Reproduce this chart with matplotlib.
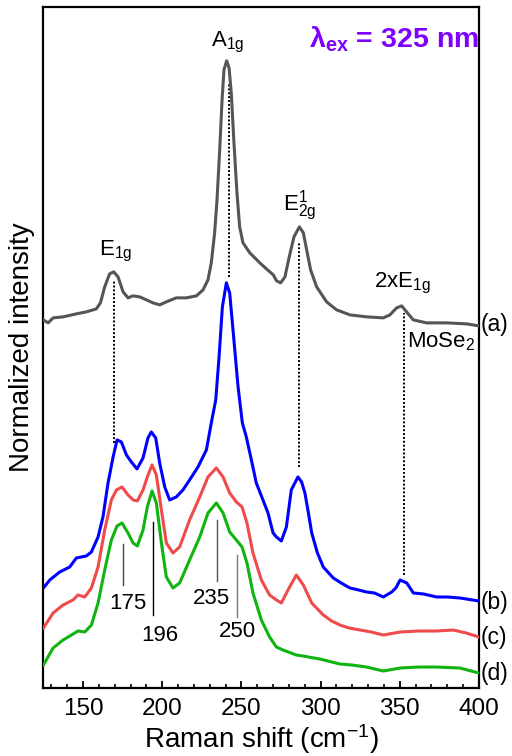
import numpy as np
import matplotlib
matplotlib.use("Agg")
import matplotlib.pyplot as plt

plt.rcParams['font.family'] = ['Liberation Sans', 'DejaVu Sans']
plt.rcParams['mathtext.fontset'] = 'custom'
plt.rcParams['mathtext.rm'] = 'Liberation Sans'
plt.rcParams['mathtext.it'] = 'Liberation Sans:italic'
plt.rcParams['mathtext.bf'] = 'Liberation Sans:bold'
plt.rcParams['mathtext.default'] = 'regular'

# -------------------------------------------------------------------
# spectra (offset, normalized units)
# -------------------------------------------------------------------
x_a = [125, 128, 131.1, 137.4, 145.8, 152.1, 158.4, 161, 163.7, 166.8, 169.4, 172.1, 175.3, 178.4,
       181.6, 185.8, 190, 194.2, 198.4, 202.6, 208.9, 215.2, 221.6, 225.8, 228.9, 231, 233.1,
       234.6, 236.3, 237.8, 239, 240.7, 242.2, 243.6, 245.3, 247.2, 248.9, 251, 255.3, 261.6,
       266.5, 270.1, 272.2, 274.8, 277.5, 280.2, 283.2, 286.6, 289.1, 291.2, 293.7, 297.5, 303.8,
       310.1, 318.5, 329.1, 339.6, 343.8, 348, 351.2, 354.3, 358.5, 366.9, 379.6, 392.2, 400]
y_a = [36.8, 36.5, 37.0, 37.1, 37.4, 37.6, 37.9, 38.5, 40.1, 41.4, 41.6, 41.1, 39.6, 39.0,
       39.2, 39.1, 38.8, 38.5, 38.3, 38.6, 39.0, 39.0, 39.2, 39.8, 40.8, 42.5, 45.5,
       48.8, 53.8, 58.8, 61.8, 62.7, 62.0, 59.5, 54.5, 49.5, 46.1, 44.5, 43.5, 42.5,
       41.8, 41.3, 40.7, 40.5, 41.1, 43.1, 45.1, 46.1, 45.5, 43.8, 41.8, 40.1, 38.6,
       37.8, 37.3, 37.1, 37.0, 37.3, 38.0, 38.2, 37.6, 36.8, 36.5, 36.5, 36.4, 36.2]

x_b = [125, 129, 135.3, 141.6, 145.8, 152.1, 155.3, 159.5, 162.6, 165.8, 169, 171.5, 174.2, 177.4,
       180.5, 184.1, 187.9, 191, 193.1, 195.9, 198.4, 201.6, 204.7, 208.9, 213.1, 217.3, 222.6,
       227.9, 231, 233.8, 235.9, 238, 240.5, 242.6, 244.7, 247.9, 250.6, 253.1, 256.3, 259.4,
       263.6, 266.8, 270, 272.1, 275.2, 278.4, 281.5, 285.7, 288, 290.1, 292.2, 294.4, 298,
       301.7, 308, 313, 318.5, 324, 329, 334, 339.6, 344.9, 347.5, 350.2, 354.4, 358.6, 365,
       373.3, 380, 388, 400]
y_b = [10.0, 10.8, 11.6, 12.1, 13.0, 13.2, 13.6, 15.1, 17.1, 20.5, 23.1, 24.8, 24.6, 23.3,
       22.6, 21.9, 23.0, 25.0, 25.6, 25.0, 22.5, 20.1, 18.8, 19.1, 19.8, 20.8, 22.1,
       23.8, 26.5, 28.8, 33.1, 38.1, 40.5, 39.5, 35.8, 30.1, 26.5, 25.1, 22.8, 20.5,
       18.8, 17.5, 15.5, 15.1, 14.7, 16.1, 19.8, 21.1, 20.6, 19.5, 17.6, 15.5, 13.5,
       12.1, 11.0, 10.5, 10.0, 9.8, 9.6, 9.5, 9.1, 9.6, 10.0, 10.8, 10.5, 9.5, 9.4,
       9.1, 9.1, 9.0, 8.7]

x_c = [125, 131.1, 137.4, 143.7, 146.8, 151.1, 155.3, 159.5, 163.7, 167.9, 171.1, 174.6, 178.4,
       181.6, 184.3, 187.9, 190.6, 193.6, 196.3, 199.5, 202.6, 206.8, 211, 217.3, 223.7, 228.9,
       234.2, 238.4, 242.6, 246.8, 250.4, 253.5, 257.3, 262.6, 267.8, 272.1, 275.2, 279.4, 284.7,
       289.1, 294.4, 301.7, 307, 312.2, 318, 324.9, 332, 339.6, 350.2, 362, 373.3, 383.7, 392, 400]
y_c = [6.0, 7.5, 8.3, 8.8, 9.3, 9.1, 10.0, 12.1, 15.8, 18.8, 19.8, 20.1, 19.3,
       18.8, 18.7, 19.8, 21.1, 22.3, 21.3, 17.8, 14.5, 13.5, 14.1, 16.8, 19.1, 21.1,
       22.0, 21.1, 19.5, 18.6, 18.1, 16.5, 13.5, 10.8, 9.3, 8.8, 8.5, 9.8, 11.3,
       10.3, 8.5, 7.3, 6.7, 6.3, 6.0, 5.8, 5.6, 5.3, 5.6, 5.7, 5.7, 5.8, 5.5, 5.1]

x_d = [125, 131.1, 137.4, 143.7, 146.8, 151.1, 155.3, 159.5, 163.7, 167.9, 171.5, 174.6, 178.4,
       181.6, 184.3, 187.9, 190.6, 193.6, 196.3, 199.5, 202.6, 206.8, 211, 217.3, 223.7, 228.9,
       234.2, 238.4, 242.6, 246.8, 250.4, 253.5, 257.3, 262.6, 267.8, 272.1, 276.3, 284.7, 288.9,
       299.6, 312.2, 320, 329, 339.6, 350.2, 362, 373.3, 388, 400]
y_d = [2.3, 4.0, 4.8, 5.4, 5.7, 5.6, 6.3, 8.5, 11.8, 14.8, 16.2, 16.5, 15.5,
       14.5, 14.2, 15.8, 18.1, 19.7, 18.5, 14.5, 11.1, 10.0, 10.5, 12.8, 15.1, 17.5,
       18.5, 17.5, 15.6, 14.8, 14.1, 12.5, 9.5, 6.8, 5.1, 4.1, 3.8, 3.3, 3.2,
       2.9, 2.4, 2.3, 2.1, 1.7, 2.0, 2.1, 2.1, 2.0, 1.5]

# dotted guides: (x, y_top, y_bottom)
guide_x = [169.6, 242, 286.5, 352.5]
guide_top = [40.8, 60.5, 44.5, 37.5]
guide_bot = [24.5, 41.1, 22.1, 11.3]

# solid position markers with their labels
mark_x = [175.5, 194, 234.4, 247]
mark_top = [14.4, 16.6, 16.8, 13.3]
mark_bot = [10.3, 7.3, 10.7, 7.1]
mark_col = ['#444444', 'black', '#555555', '#777777']
mark_lbl = ['175', '196', '235', '250']
mark_lbl_x = [178.4, 198.6, 231, 247.2]
mark_lbl_y = [8.45, 5.3, 8.97, 5.7]

# -------------------------------------------------------------------
# figure
# -------------------------------------------------------------------
fig = plt.figure(figsize=(5.12, 7.56), dpi=100)
ax = fig.add_axes([0.0848, 0.0899, 0.9355 - 0.0848, 0.9911 - 0.0899])

lw = 2.2
for xs, ys, col in [(x_a, y_a, '#555555'), (x_b, y_b, '#0000ff'),
                    (x_c, y_c, '#f04a4a'), (x_d, y_d, '#10b410')]:
    ax.plot(xs, ys, color=col, lw=lw, zorder=3, solid_joinstyle='round')

for gx, gt, gb in zip(guide_x, guide_top, guide_bot):
    ax.plot([gx, gx], [gb, gt], color='black', lw=1.4, linestyle=(0, (1, 1)), zorder=2)

for mx, mt, mb, mc in zip(mark_x, mark_top, mark_bot, mark_col):
    ax.plot([mx, mx], [mb, mt], color=mc, lw=1.0, zorder=2)
for lx, ly, lt in zip(mark_lbl_x, mark_lbl_y, mark_lbl):
    ax.text(lx, ly, lt, fontsize=16, ha='center', va='center')

# peak labels
ax.text(170.8, 43.2, 'E$_{1g}$', fontsize=16, ha='center', va='baseline')
ax.text(241.5, 64.1, 'A$_{1g}$', fontsize=16, ha='center', va='baseline')
ax.text(286.9, 47.7, 'E$^{1}_{2g}$', fontsize=16, ha='center', va='baseline')
ax.text(351.4, 40.0, '2xE$_{1g}$', fontsize=16, ha='center', va='baseline')
ax.text(354.5, 34.0, 'MoSe$_{2}$', fontsize=16, ha='left', va='baseline')

ax.text(400, 64.0, r'$\mathbf{λ_{ex}}$ = 325 nm', fontsize=20.5, fontweight='bold',
        color='#8000ff', ha='right', va='baseline')

# sample labels on the right
for yy, lab in zip([36.3, 8.5, 5.05, 1.5], ['(a)', '(b)', '(c)', '(d)']):
    ax.text(1.004, yy, lab, fontsize=16.5, ha='left', va='center',
            transform=ax.get_yaxis_transform(), clip_on=False)

ax.set_xlim(125, 400)
ax.set_ylim(0, 68.1)
ax.set_xticks([150, 200, 250, 300, 350, 400])
ax.set_xticks(np.arange(130, 400, 10), minor=True)
ax.set_yticks([])
ax.tick_params(axis='x', which='major', direction='in', length=5, width=1.3, labelsize=17.5, pad=7)
ax.tick_params(axis='x', which='minor', direction='in', length=3, width=1.2)
for sp in ax.spines.values():
    sp.set_linewidth(1.6)

ax.set_xlabel('Raman shift (cm$^{-1}$)', fontsize=20, labelpad=2)
ax.set_ylabel('Normalized intensity', fontsize=20, labelpad=6)

plt.savefig('out.png', dpi=100)
